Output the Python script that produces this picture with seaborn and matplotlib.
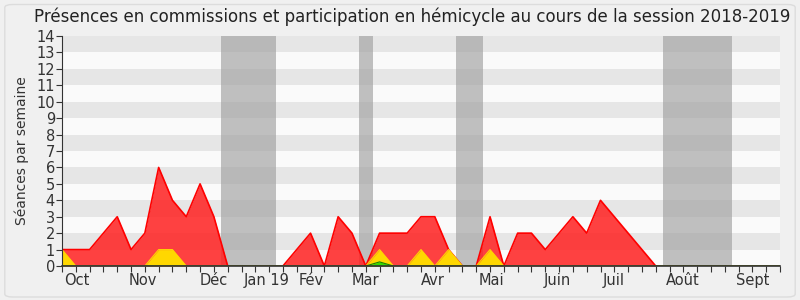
import numpy as np
import pandas as pd
import matplotlib
matplotlib.use("Agg")
import matplotlib.pyplot as plt
from matplotlib.patches import FancyBboxPatch
import seaborn as sns

# ---- data (weekly, week 0 = first week of session) ----
weeks = list(range(53))
hemicycle = [1, 1, 1, 2, 3, 1, 2, 6, 4, 3, 5, 3, 0, 0, 0, 0, 0, 1, 2, 0,
             3, 2, 0, 2, 2, 2, 3, 3, 1, 0, 0, 3, 0, 2, 2, 1, 2, 3, 2, 4,
             3, 2, 1, 0, 0, 0, 0, 0, 0, 0, 0, 0, 0]
interventions = [1, 0, 0, 0, 0, 0, 0, 1, 1, 0, 0, 0, 0, 0, 0, 0, 0, 0, 0, 0,
                 0, 0, 0, 1, 0, 0, 1, 0, 1, 0, 0, 1, 0, 0, 0, 0, 0, 0, 0, 0,
                 0, 0, 0, 0, 0, 0, 0, 0, 0, 0, 0, 0, 0]
commissions = [0] * 23 + [0.25] + [0] * 29
vacations = [(11.5, 15.5), (21.5, 22.5), (28.5, 30.5), (43.5, 48.5)]
month_labels = ["Oct", "Nov", "Déc", "Jan 19", "Fév", "Mar", "Avr", "Mai",
                "Juin", "Juil", "Août", "Sept"]
month_pos = [1.06, 5.87, 10.96, 14.8, 18.08, 22.0, 26.89, 31.1, 35.9,
             39.97, 44.99, 50.0]
title = "Présences en commissions et participation en hémicycle au cours de la session 2018-2019"

df = pd.DataFrame({"semaine": weeks, "hemicycle": hemicycle,
                   "interventions": interventions, "commissions": commissions})

sns.set_style("white")
plt.rcParams["font.family"] = ["DejaVu Sans"]

fig = plt.figure(figsize=(8, 3), dpi=100)
fig.patch.set_facecolor("#f0f0f0")
fig.patches.append(FancyBboxPatch((0.006, 0.01), 0.988, 0.975,
                                  boxstyle="round,pad=0,rounding_size=0.01",
                                  transform=fig.transFigure, facecolor="#f0f0f0",
                                  edgecolor="#dcdcdc", linewidth=1, zorder=-1))
ax = fig.add_axes([0.0775, 0.1133, 0.8975, 0.7667])
ax.set_facecolor("#fafafa")

# stripes
for y in range(1, 14, 2):
    ax.axhspan(y, y + 1, color="#e6e6e6", lw=0, zorder=0)
# vacations
for a, b in vacations:
    ax.axvspan(a, b, color="#a0a0a0", alpha=0.65, lw=0, zorder=1)

ax.fill_between(df["semaine"], df["hemicycle"], color="#ff2020", alpha=0.85, lw=0, zorder=2)
sns.lineplot(data=df, x="semaine", y="hemicycle", color="#ff0000", lw=1.2, ax=ax, zorder=3)
ax.fill_between(df["semaine"], df["interventions"], color="#ffd700", lw=0, zorder=4)
sns.lineplot(data=df, x="semaine", y="interventions", color="#ffd700", lw=0.8, ax=ax, zorder=4)
ax.fill_between(df["semaine"], df["commissions"], color="#33dd00", lw=0, zorder=5)
sns.lineplot(data=df, x="semaine", y="commissions", color="#118800", lw=0.8, ax=ax, zorder=5)

ax.set_xlim(0, 52)
ax.set_ylim(0, 14)
ax.set_yticks(range(15))
ax.set_yticklabels([str(i) for i in range(15)], fontsize=10.5, color="#333333")
ax.set_xticks(range(53))
ax.set_xticklabels([])
ax.tick_params(axis="x", length=4, width=0.8, color="#333333", direction="out", bottom=True)
ax.tick_params(axis="y", length=4, width=0.8, color="#333333", direction="out", left=True, pad=1)
for pos, lab in zip(month_pos, month_labels):
    ax.text(pos, -0.45, lab, ha="center", va="top", fontsize=10.5, color="#333333",
            transform=ax.transData)
ax.set_xlabel("")
ax.set_ylabel("Séances par semaine", fontsize=10, color="#333333", labelpad=5)
fig.text(0.515, 0.943, title, ha="center", va="center", fontsize=12, color="#222222")

for s in ["top", "right"]:
    ax.spines[s].set_visible(False)
ax.spines["left"].set_color("#333333")
ax.spines["left"].set_linewidth(0.8)
ax.spines["bottom"].set_color("#333333")
ax.spines["bottom"].set_linewidth(1.2)
ax.spines["left"].set_zorder(10)
ax.spines["bottom"].set_zorder(10)

fig.savefig("out.png", dpi=100, facecolor=fig.get_facecolor())
